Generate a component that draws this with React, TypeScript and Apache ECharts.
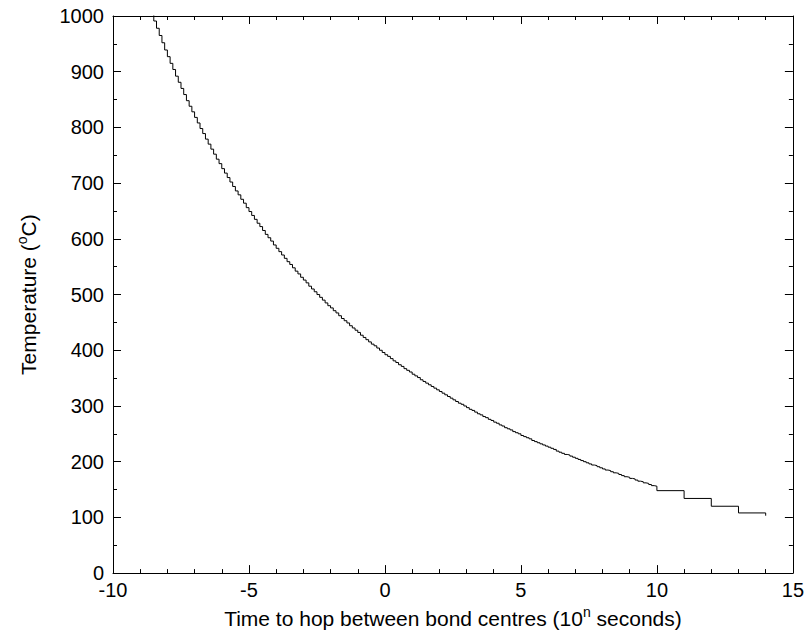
import React, { useEffect, useRef } from "react";
import * as echarts from "echarts";

// log10 of hop time (n, in 10^n seconds)
const hopTimes: number[] = [
  -8.6, -8.5, -8.4, -8.3, -8.2, -8.1, -8.0, -7.9, -7.8, -7.7,
  -7.6, -7.5, -7.4, -7.3, -7.2, -7.1, -7.0, -6.9, -6.8, -6.7,
  -6.6, -6.5, -6.4, -6.3, -6.2, -6.1, -6.0, -5.9, -5.8, -5.7,
  -5.6, -5.5, -5.4, -5.3, -5.2, -5.1, -5.0, -4.9, -4.8, -4.7,
  -4.6, -4.5, -4.4, -4.3, -4.2, -4.1, -4.0, -3.9, -3.8, -3.7,
  -3.6, -3.5, -3.4, -3.3, -3.2, -3.1, -3.0, -2.9, -2.8, -2.7,
  -2.6, -2.5, -2.4, -2.3, -2.2, -2.1, -2.0, -1.9, -1.8, -1.7,
  -1.6, -1.5, -1.4, -1.3, -1.2, -1.1, -1.0, -0.9, -0.8, -0.7,
  -0.6, -0.5, -0.4, -0.3, -0.2, -0.1, 0.0, 0.1, 0.2, 0.3,
  0.4, 0.5, 0.6, 0.7, 0.8, 0.9, 1.0, 1.1, 1.2, 1.3,
  1.4, 1.5, 1.6, 1.7, 1.8, 1.9, 2.0, 2.1, 2.2, 2.3,
  2.4, 2.5, 2.6, 2.7, 2.8, 2.9, 3.0, 3.1, 3.2, 3.3,
  3.4, 3.5, 3.6, 3.7, 3.8, 3.9, 4.0, 4.1, 4.2, 4.3,
  4.4, 4.5, 4.6, 4.7, 4.8, 4.9, 5.0, 5.1, 5.2, 5.3,
  5.4, 5.5, 5.6, 5.7, 5.8, 5.9, 6.0, 6.1, 6.2, 6.3,
  6.4, 6.5, 6.6, 6.7, 6.8, 6.9, 7.0, 7.1, 7.2, 7.3,
  7.4, 7.5, 7.6, 7.7, 7.8, 7.9, 8.0, 8.1, 8.2, 8.3,
  8.4, 8.5, 8.6, 8.7, 8.8, 8.9, 9.0, 9.1, 9.2, 9.3,
  9.4, 9.5, 9.6, 9.7, 9.8, 9.9,
  10, 11, 12, 13, 14,
];

// Temperature in degrees Celsius
const temperatures: number[] = [
  1004, 991, 978, 965, 952, 939, 927, 915, 904, 892,
  881, 870, 859, 848, 838, 828, 818, 808, 798, 789,
  779, 770, 761, 752, 743, 735, 726, 718, 710, 702,
  694, 686, 679, 671, 664, 656, 649, 642, 635, 628,
  622, 615, 608, 602, 596, 589, 583, 577, 571, 565,
  559, 554, 548, 542, 537, 531, 526, 521, 515, 510,
  505, 500, 495, 490, 485, 480, 476, 471, 467, 462,
  457, 453, 449, 444, 440, 436, 432, 427, 423, 419,
  415, 411, 408, 404, 400, 396, 392, 389, 385, 381,
  378, 374, 371, 367, 364, 361, 357, 354, 351, 347,
  344, 341, 338, 335, 332, 329, 326, 323, 320, 317,
  314, 311, 308, 305, 303, 300, 297, 294, 292, 289,
  286, 284, 281, 279, 276, 274, 271, 269, 266, 264,
  261, 259, 257, 254, 252, 250, 247, 245, 243, 241,
  238, 236, 234, 232, 230, 228, 226, 224, 222, 219,
  217, 215, 213, 212, 210, 208, 206, 204, 202, 200,
  198, 196, 194, 193, 191, 189, 187, 185, 184, 182,
  180, 179, 177, 175, 173, 172, 170, 169, 167, 165,
  164, 162, 161, 159, 157, 156,
  148, 134, 120, 108, 103,
];

const xTitle = "Time to hop between bond centres (10{sup|n} seconds)";
const yTitle = "Temperature ({sup|o}C)";

const FONT = "Liberation Sans, Arial, Helvetica, sans-serif";

export default function App() {
  const ref = useRef<HTMLDivElement>(null);

  useEffect(() => {
    if (!ref.current) return;
    const chart = echarts.init(ref.current, null, { renderer: "svg" });
    const data = hopTimes.map((t, i) => [t, temperatures[i]]);

    const axisLine = { show: true, onZero: false, lineStyle: { color: "#000", width: 1 } };
    const axisTick = { show: true, inside: true, length: 8, lineStyle: { color: "#000", width: 1 } };
    const minorTick = { show: true, splitNumber: 5, length: 4, lineStyle: { color: "#000", width: 1 } };
    const richName = {
      fontSize: 21,
      fontFamily: FONT,
      color: "#000",
      rich: {
        sup: { fontSize: 14, fontFamily: FONT, color: "#000", verticalAlign: "top", lineHeight: 14 },
      },
    };
    const plain = (v: number) => String(v);

    chart.setOption({
      animation: false,
      backgroundColor: "#fff",
      grid: { left: 113, right: 14, top: 16, bottom: 61, containLabel: false },
      xAxis: [
        {
          type: "value",
          position: "bottom",
          min: -10,
          max: 15,
          interval: 5,
          axisLine,
          axisTick,
          minorTick,
          splitLine: { show: false },
          minorSplitLine: { show: false },
          axisLabel: { color: "#000", fontSize: 20, fontFamily: FONT, margin: 7, formatter: plain },
          name: xTitle,
          nameLocation: "middle",
          nameGap: 30,
          nameTextStyle: { ...richName, lineHeight: 27 },
        },
        {
          type: "value",
          position: "top",
          min: -10,
          max: 15,
          interval: 5,
          axisLine,
          axisTick,
          minorTick,
          splitLine: { show: false },
          axisLabel: { show: false },
        },
      ],
      yAxis: [
        {
          type: "value",
          position: "left",
          min: 0,
          max: 1000,
          interval: 100,
          axisLine,
          axisTick,
          minorTick: { ...minorTick, splitNumber: 2 },
          splitLine: { show: false },
          axisLabel: { color: "#000", fontSize: 20, fontFamily: FONT, margin: 9, formatter: plain },
          name: yTitle,
          nameLocation: "middle",
          nameGap: 71,
          nameRotate: 90,
          nameTextStyle: { ...richName, lineHeight: 27 },
        },
        {
          type: "value",
          position: "right",
          min: 0,
          max: 1000,
          interval: 100,
          axisLine,
          axisTick,
          minorTick: { ...minorTick, splitNumber: 2 },
          splitLine: { show: false },
          axisLabel: { show: false },
        },
      ],
      series: [
        {
          type: "line",
          xAxisIndex: 0,
          yAxisIndex: 0,
          data,
          step: "end",
          showSymbol: false,
          symbol: "none",
          clip: true,
          lineStyle: { color: "#000", width: 1 },
        },
      ],
    });

    return () => chart.dispose();
  }, []);

  return (
    <div
      ref={ref}
      style={{ position: "absolute", left: 0, top: 0, width: 807, height: 637, background: "#fff" }}
    />
  );
}
